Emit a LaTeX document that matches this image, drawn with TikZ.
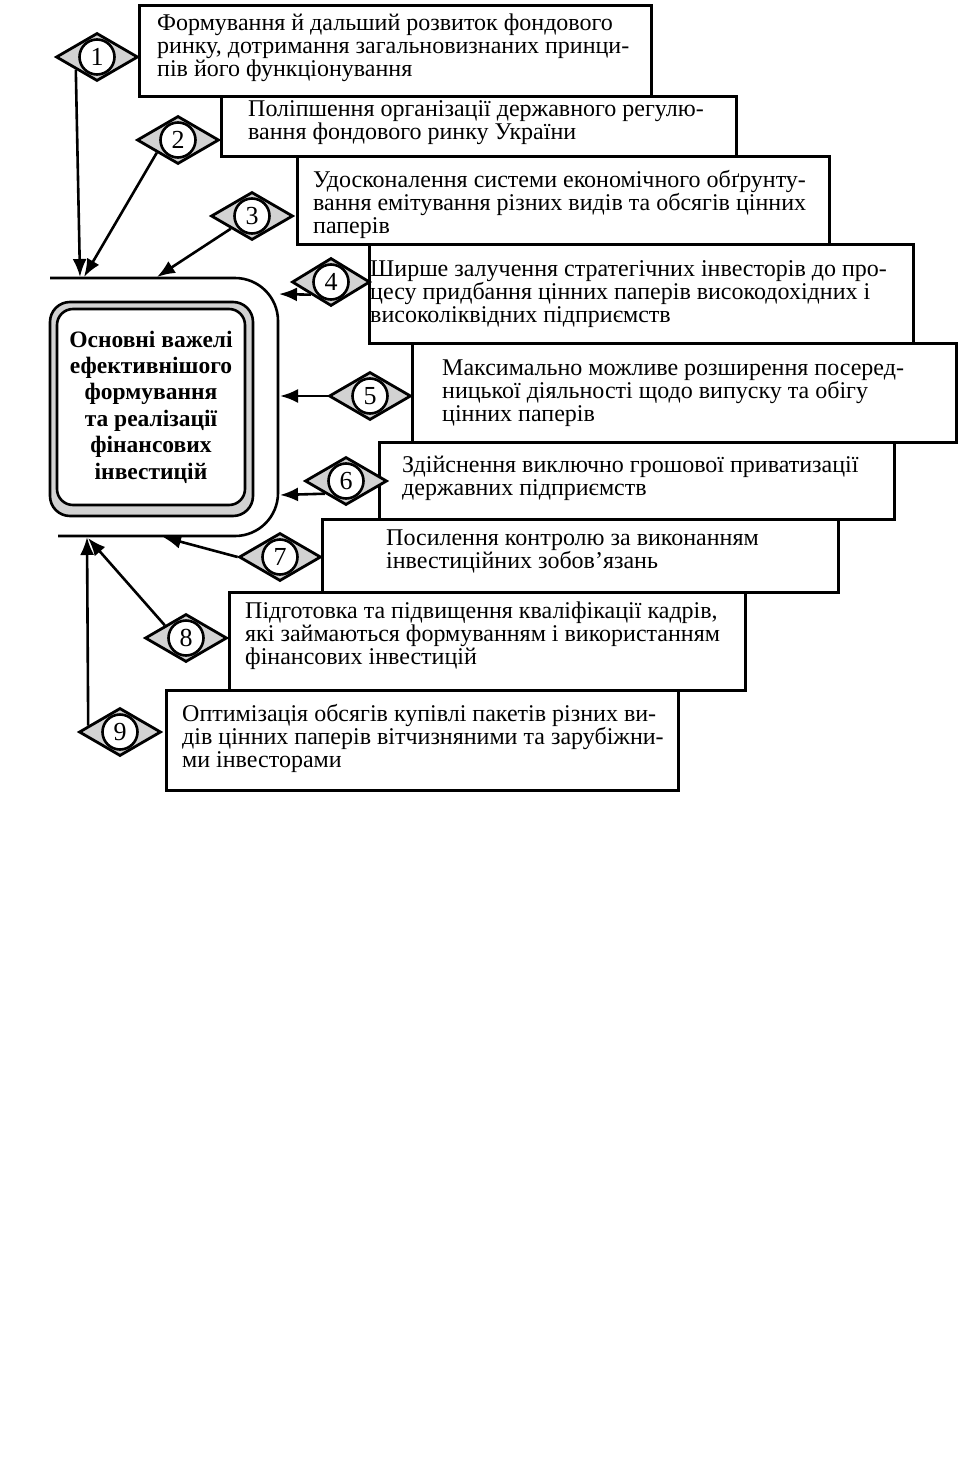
\documentclass[tikz,border=0pt]{standalone}
\usepackage{fontspec}
\setmainfont{Liberation Serif}
\usetikzlibrary{shapes.geometric,arrows.meta,calc}
\begin{document}
\begin{tikzpicture}[x=1pt,y=-1pt,
  box/.style={draw, line width=2.8pt, fill=white, inner sep=0pt, anchor=north west},
  txt/.style={font=\fontsize{24}{23}\selectfont, align=left, inner sep=0pt, anchor=west},
  dia/.style={diamond, draw, line width=2.8pt, fill=gray!35, minimum width=82pt, minimum height=48pt, inner sep=0pt},
  numc/.style={circle, draw, line width=2.6pt, fill=white, minimum size=35pt, inner sep=0pt, font=\fontsize{26}{26}\selectfont},
  conn/.style={line width=2.6pt, -{Latex[length=18pt,width=14pt]}},
  frame/.style={line width=2.6pt}
]
\useasboundingbox (0,0) rectangle (970,1477);
\fill[white] (0,0) rectangle (970,1477);

% boxes
\node[box, minimum width=512, minimum height=91] (b1) at (138,4) {};
\node[box, minimum width=515, minimum height=60] (b2) at (220,95) {};
\node[box, minimum width=532, minimum height=88] (b3) at (296,155) {};
\node[box, minimum width=544, minimum height=99] (b4) at (368,243) {};
\node[box, minimum width=544, minimum height=99] (b5) at (411,342) {};
\node[box, minimum width=515, minimum height=77] (b6) at (378,441) {};
\node[box, minimum width=516, minimum height=73] (b7) at (321,518) {};
\node[box, minimum width=516, minimum height=98] (b8) at (228,591) {};
\node[box, minimum width=512, minimum height=100] (b9) at (165,689) {};

% texts
\node[txt] (t1) at (157,48) {Формування й дальший розвиток фондового\\ринку, дотримання загальновизнаних принци-\\пів його функціонування};
\node[txt] (t2) at (248,123) {Поліпшення організації державного регулю-\\вання фондового ринку України};
\node[txt] (t3) at (313,204) {Удосконалення системи економічного обґрунту-\\вання емітування різних видів та обсягів цінних\\паперів};
\node[txt] (t4) at (370,294) {Ширше залучення стратегічних інвесторів до про-\\цесу придбання цінних паперів високодохідних і\\високоліквідних підприємств};
\node[txt] (t5) at (442,393) {Максимально можливе розширення посеред-\\ницької діяльності щодо випуску та обігу\\цінних паперів};
\node[txt] (t6) at (402,478) {Здійснення виключно грошової приватизації\\державних підприємств};
\node[txt] (t7) at (386,551) {Посилення контролю за виконанням\\інвестиційних зобов’язань};
\node[txt] (t8) at (245,636) {Підготовка та підвищення кваліфікації кадрів,\\які займаються формуванням і використанням\\фінансових інвестицій};
\node[txt] (t9) at (182,738) {Оптимізація обсягів купівлі пакетів різних ви-\\дів цінних паперів вітчизняними та зарубіжни-\\ми інвесторами};

% central element
\draw[frame, rounded corners=43pt] (50,278) -- (278,278) -- (278,536) -- (58,536);
\node[draw, line width=2.6pt, fill=gray!35, rounded corners=20pt, minimum width=203pt, minimum height=214pt, inner sep=0pt] (outer) at (151.5,409) {};
\node[draw, line width=2.6pt, fill=white, rounded corners=16pt, minimum width=188pt, minimum height=196pt, inner sep=0pt, align=center, font=\fontsize{23.5}{26.4}\selectfont\bfseries] (core) at (151,407) {Основні важелі\\ефективнішого\\формування\\та реалізації\\фінансових\\інвестицій};

% arrow end points
\coordinate (e1) at (80,277);
\coordinate (e2) at (84,277);
\coordinate (e3) at (157,277);
\coordinate (e4) at (279,294);
\coordinate (e5) at (280,396);
\coordinate (e6) at (280,495);
\coordinate (e7) at (163,537);
\coordinate (e8) at (88,538);
\coordinate (e9) at (87,537);

% diamonds
\node[dia] (d1) at (97,57) {};
\node[dia] (d2) at (178,140) {};
\node[dia] (d3) at (252,216) {};
\node[dia, minimum width=78pt] (d4) at (331,282) {};
\node[dia] (d5) at (370,396) {};
\node[dia] (d6) at (346,481) {};
\node[dia] (d7) at (280,557) {};
\node[dia] (d8) at (186,638) {};
\node[dia] (d9) at (120,732) {};

% connectors
\draw[conn] ($(d1.west)!0.5!(d1.south)$) -- (e1);
\draw[conn] ($(d2.west)!0.5!(d2.south)$) -- (e2);
\draw[conn] ($(d3.west)!0.5!(d3.south)$) -- (e3);
\draw[conn] ($(d4.west)!0.5!(d4.south)$) -- (e4);
\draw[conn] (d5.west) -- (e5);
\draw[conn] ($(d6.west)!0.5!(d6.south)$) -- (e6);
\draw[conn] (d7.west) -- (e7);
\draw[conn] ($(d8.west)!0.5!(d8.north)$) -- (e8);
\draw[conn] ($(d9.west)!0.25!(d9.north)$) -- (e9);

% numbers
\foreach \i in {1,...,9} {\node[numc] (c\i) at (d\i) {\i};}
\end{tikzpicture}
\end{document}
